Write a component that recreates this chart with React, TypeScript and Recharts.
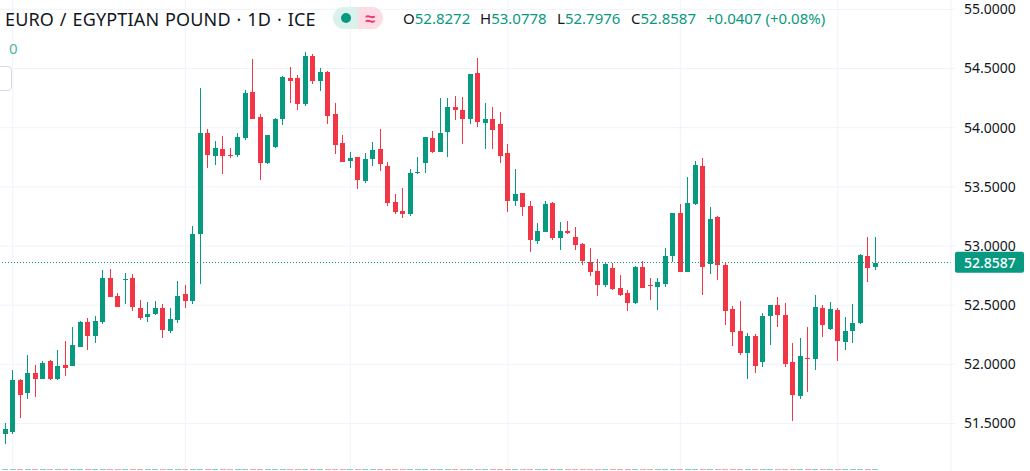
import { Bar, CartesianGrid, ComposedChart, ReferenceLine, XAxis, YAxis } from 'recharts'

const opens = [
  51.410, 51.427, 51.867, 51.757, 51.926, 51.875, 52.028, 51.875, 51.994, 51.985, 52.146, 52.357, 52.239,
  52.357, 52.729, 52.577, 52.712, 52.729, 52.475, 52.399, 52.425, 52.475, 52.281, 52.374, 52.594, 52.535,
  53.101, 53.955, 53.760, 53.820, 53.769, 53.769, 53.913, 54.301, 54.090, 53.701, 53.836, 54.073, 54.420,
  54.420, 54.200, 54.606, 54.394, 54.470, 54.115, 53.870, 53.718, 53.752, 53.549, 53.735, 53.820, 53.676,
  53.371, 53.295, 53.270, 53.617, 53.701, 53.913, 53.794, 53.963, 54.175, 54.149, 54.073, 54.462, 54.039,
  54.073, 54.031, 53.786, 53.380, 53.448, 53.338, 53.042, 53.118, 53.363, 53.067, 53.126, 53.076, 53.016,
  52.864, 52.788, 52.670, 52.814, 52.645, 52.602, 52.518, 52.822, 52.670, 52.653, 52.678, 52.915, 53.279,
  52.780, 53.355, 53.676, 52.847, 53.245, 52.839, 52.467, 52.281, 52.096, 52.239, 52.019, 52.408, 52.501,
  52.416, 52.019, 51.732, 52.053, 52.045, 52.475, 52.298, 52.459, 52.188, 52.281, 52.349, 52.915, 52.8272,
]
const highs = [
  51.504, 51.951, 51.875, 52.079, 51.994, 52.028, 52.036, 52.121, 52.197, 52.315, 52.366, 52.391, 52.408,
  52.797, 52.805, 52.602, 52.771, 52.763, 52.543, 52.526, 52.535, 52.509, 52.475, 52.704, 52.670, 53.169,
  54.335, 53.989, 53.887, 53.929, 53.828, 53.955, 54.318, 54.580, 54.115, 53.938, 54.082, 54.437, 54.513,
  54.445, 54.639, 54.623, 54.504, 54.479, 54.208, 53.938, 53.794, 53.752, 53.786, 53.879, 53.989, 53.710,
  53.439, 53.490, 53.650, 53.752, 53.921, 53.972, 54.251, 54.251, 54.268, 54.259, 54.453, 54.589, 54.208,
  54.175, 54.132, 53.862, 53.650, 53.448, 53.380, 53.194, 53.380, 53.371, 53.202, 53.211, 53.160, 53.025,
  52.983, 52.890, 52.864, 52.856, 52.754, 52.628, 52.831, 52.873, 52.729, 52.729, 52.983, 53.279, 53.355,
  53.583, 53.718, 53.743, 53.329, 53.253, 52.864, 52.492, 52.535, 52.264, 52.256, 52.433, 52.501, 52.568,
  52.518, 52.180, 52.222, 52.315, 52.585, 52.501, 52.526, 52.475, 52.399, 52.509, 52.932, 53.076, 53.0778,
]
const lows = [
  51.326, 51.410, 51.546, 51.706, 51.723, 51.875, 51.867, 51.867, 51.900, 51.985, 52.146, 52.121, 52.180,
  52.340, 52.568, 52.484, 52.509, 52.450, 52.374, 52.357, 52.416, 52.222, 52.264, 52.349, 52.475, 52.509,
  52.678, 53.659, 53.684, 53.608, 53.743, 53.752, 53.896, 54.073, 53.557, 53.693, 53.828, 54.023, 54.208,
  54.149, 54.183, 54.369, 54.310, 54.031, 53.777, 53.710, 53.659, 53.481, 53.532, 53.676, 53.634, 53.338,
  53.270, 53.236, 53.253, 53.608, 53.617, 53.786, 53.794, 53.752, 54.065, 53.862, 54.031, 54.006, 53.820,
  53.820, 53.701, 53.287, 53.338, 53.253, 52.949, 53.016, 53.118, 53.050, 52.966, 53.101, 52.966, 52.839,
  52.746, 52.577, 52.653, 52.628, 52.577, 52.450, 52.509, 52.645, 52.543, 52.459, 52.653, 52.864, 52.780,
  52.780, 53.346, 52.585, 52.763, 52.712, 52.332, 52.154, 52.079, 51.875, 51.926, 51.977, 52.163, 52.315,
  51.977, 51.520, 51.706, 51.765, 51.951, 52.230, 52.290, 52.028, 52.121, 52.180, 52.340, 52.695, 52.7976,
]
const closes = [
  51.452, 51.867, 51.740, 51.926, 51.875, 52.011, 51.875, 51.985, 51.968, 52.163, 52.357, 52.239, 52.366,
  52.729, 52.568, 52.484, 52.721, 52.484, 52.391, 52.425, 52.475, 52.290, 52.382, 52.577, 52.535, 53.101,
  53.955, 53.769, 53.828, 53.760, 53.760, 53.921, 54.293, 54.073, 53.701, 53.938, 54.073, 54.428, 54.394,
  54.200, 54.606, 54.394, 54.470, 54.098, 53.853, 53.710, 53.743, 53.557, 53.735, 53.811, 53.693, 53.363,
  53.287, 53.270, 53.617, 53.625, 53.921, 53.794, 53.955, 54.175, 54.149, 54.073, 54.453, 54.048, 54.073,
  53.980, 53.760, 53.380, 53.439, 53.329, 53.050, 53.126, 53.355, 53.067, 53.126, 53.109, 53.008, 52.873,
  52.780, 52.670, 52.847, 52.636, 52.585, 52.518, 52.822, 52.645, 52.661, 52.695, 52.915, 53.279, 52.780,
  53.363, 53.684, 52.822, 53.228, 52.839, 52.450, 52.273, 52.096, 52.239, 51.985, 52.408, 52.501, 52.416,
  52.002, 51.740, 52.070, 52.045, 52.484, 52.332, 52.467, 52.197, 52.281, 52.349, 52.923, 52.814, 52.8587,
]

const priceTicks = [51.5, 52, 52.5, 53, 53.5, 54, 54.5, 55]
const timeGridIndexes = [1, 24, 46, 67, 90, 111]
const lastPrice = 52.8587

const quote = [
  { label: 'O', value: '52.8272', x: 403 },
  { label: 'H', value: '53.0778', x: 480 },
  { label: 'L', value: '52.7976', x: 557 },
  { label: 'C', value: '52.8587', x: 631 },
]

const UP = '#089981'
const DOWN = '#f23645'
const GRID = '#f0f3fa'
const UI_FONT = '"Noto Sans", sans-serif'

const rows = opens.map((open, index) => ({
  index,
  open,
  close: closes[index],
  range: [lows[index], highs[index]],
  stub: 1,
}))

// body and wick are worked out from the pixel height recharts gave the high-low range
function Candle(props: any) {
  const { x, y, width, height, payload } = props
  const [low, high] = payload.range
  const perUnit = height / (high - low)
  const top = Math.max(payload.open, payload.close)
  const bottom = Math.min(payload.open, payload.close)
  const color = payload.close >= payload.open ? UP : DOWN
  const mid = Math.floor(x + width / 2)
  const bodyY = Math.round(y + (high - top) * perUnit)
  const bodyH = Math.max(1, Math.round((top - bottom) * perUnit))
  return (
    <g shapeRendering="crispEdges">
      <rect x={mid} y={Math.round(y)} width={1} height={Math.round(height)} fill={color} />
      <rect x={mid - 2} y={bodyY} width={5} height={bodyH} fill={color} />
    </g>
  )
}

// the volume pane is cut off by the screenshot, only its bar tips are left
function VolumeStub(props: any) {
  const { x, y, width, height, payload } = props
  const color = payload.close >= payload.open ? '#80d0c6' : '#f9a3a3'
  return (
    <rect
      x={Math.floor(x + width / 2) - 3}
      y={Math.round(y)}
      width={6}
      height={Math.round(height)}
      fill={color}
      shapeRendering="crispEdges"
    />
  )
}

function PriceTag(props: any) {
  const y = props.viewBox.y
  return (
    <g>
      <rect x={955} y={y - 11} width={69} height={21} rx={2} fill={UP} />
      <text x={964} y={y + 5} fill="#fff" fontSize={14} fontWeight={500} fontFamily={UI_FONT}>
        {lastPrice.toFixed(4)}
      </text>
    </g>
  )
}

export default function App() {
  return (
    <div style={{ position: 'absolute', left: 0, top: 0, width: 1030, height: 471, background: '#fff', overflow: 'hidden' }}>
      <ComposedChart width={1030} height={471} data={rows} margin={{ top: 0, right: 0, bottom: 0, left: 0 }}>
        <CartesianGrid stroke={GRID} yAxisId="price" xAxisId="time" verticalValues={timeGridIndexes} horizontalValues={priceTicks} />
        <XAxis xAxisId="time" type="number" dataKey="index" domain={[-0.7067, 126.09]} hide allowDataOverflow />
        <XAxis xAxisId="vol" type="number" dataKey="index" domain={[-0.7067, 126.09]} hide allowDataOverflow />
        <YAxis
          yAxisId="price"
          orientation="right"
          width={79}
          type="number"
          domain={[51.098, 55.079]}
          ticks={priceTicks}
          interval={0}
          allowDataOverflow
          tickFormatter={(v: number) => v.toFixed(4)}
          tick={{ fontSize: 14, fill: '#131722', fontFamily: UI_FONT, textAnchor: 'start' }}
          tickLine={{ stroke: GRID }}
          tickSize={4}
          tickMargin={9}
          axisLine={{ stroke: GRID }}
        />
        <YAxis yAxisId="vol" hide type="number" domain={[-1, 470]} allowDataOverflow />
        <Bar xAxisId="vol" yAxisId="vol" dataKey="stub" barSize={6} shape={VolumeStub} isAnimationActive={false} />
        <ReferenceLine
          xAxisId="time"
          yAxisId="price"
          y={lastPrice}
          stroke={UP}
          strokeWidth={1}
          strokeDasharray="1 2"
          shapeRendering="crispEdges"
          label={<PriceTag />}
        />
        <Bar xAxisId="time" yAxisId="price" dataKey="range" barSize={5} shape={Candle} isAnimationActive={false} />
      </ComposedChart>

      <div style={{ position: 'absolute', left: 5, top: 6, fontFamily: UI_FONT, fontSize: 18, letterSpacing: 0.15, wordSpacing: 1, lineHeight: '26px', color: '#131722', whiteSpace: 'nowrap' }}>
        EURO / EGYPTIAN POUND · 1D · ICE
      </div>
      <div style={{ position: 'absolute', left: 333, top: 7, width: 50, height: 22, display: 'flex' }}>
        <div style={{ width: 25, borderRadius: '11px 0 0 11px', background: '#daf1ec', display: 'flex', alignItems: 'center', justifyContent: 'center' }}>
          <div style={{ width: 10, height: 10, borderRadius: 5, background: UP }} />
        </div>
        <div style={{ width: 25, borderRadius: '0 11px 11px 0', background: '#fcdde6', color: '#f23670', fontFamily: UI_FONT, fontSize: 18, fontWeight: 700, lineHeight: '22px', textAlign: 'center' }}>
          ≈
        </div>
      </div>
      {quote.map((q) => (
        <div key={q.label} style={{ position: 'absolute', left: q.x, top: 8, fontFamily: UI_FONT, fontSize: 15, lineHeight: '20px', whiteSpace: 'nowrap' }}>
          <span style={{ color: '#131722' }}>{q.label}</span>
          <span style={{ color: UP }}>{q.value}</span>
        </div>
      ))}
      <div style={{ position: 'absolute', left: 706, top: 8, fontFamily: UI_FONT, fontSize: 15, lineHeight: '20px', color: UP, whiteSpace: 'nowrap' }}>
        +0.0407 (+0.08%)
      </div>
      <div style={{ position: 'absolute', left: 9, top: 38, fontFamily: UI_FONT, fontSize: 15, lineHeight: '20px', color: '#4db6a4' }}>0</div>
      <div style={{ position: 'absolute', left: -6, top: 66, width: 18, height: 25, boxSizing: 'border-box', border: '1px solid #d6d8e4', borderRadius: 4, background: '#fff' }} />
    </div>
  )
}
